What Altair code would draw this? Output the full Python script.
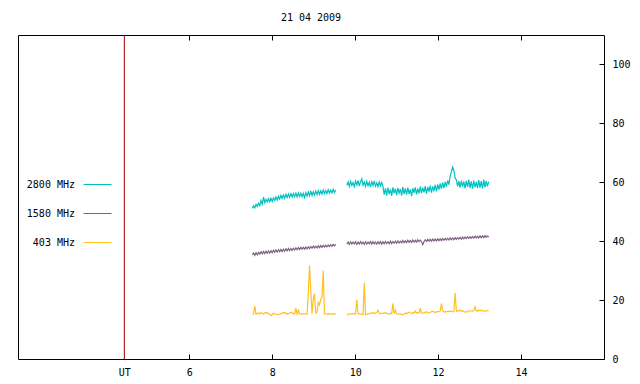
import altair as alt
import pandas as pd

title_text = "21 04 2009"
series_names = ["2800 MHz", "1580 MHz", "403 MHz"]
series_colors = ["#00c0c0", "#806080", "#ffc020"]
ut_color = "#a00000"
seg1_start = 7.52
seg2_start = 9.80
step = 0.03
ut_time = [4.434]
x_ticks = [6, 8, 10, 12, 14]
y_ticks = [0, 20, 40, 60, 80, 100]

f2800_a = [51.2, 52.0, 51.3, 52.5, 51.8, 52.9, 52.1, 53.8, 52.6, 55.0,
           53.1, 54.2, 53.3, 54.5, 53.4, 54.6, 53.5, 54.7, 53.8, 55.0,
           54.0, 55.3, 54.3, 55.6, 54.5, 55.7, 54.6, 55.9, 54.8, 56.0,
           54.9, 56.1, 55.0, 56.2, 55.1, 56.3, 55.0, 56.4, 55.2, 56.3,
           55.1, 56.2, 54.8, 56.5, 55.3, 56.7, 55.4, 57.1, 55.5, 56.8,
           55.7, 57.0, 55.8, 57.2, 55.9, 57.1, 56.0, 57.4, 56.1, 57.2,
           56.2, 57.5, 56.3, 57.3, 56.4, 57.6, 56.5, 57.4]
f2800_b = [59.0, 60.1, 58.6, 60.3, 58.9, 59.9, 58.5, 60.4, 59.1, 60.6,
           58.7, 60.2, 61.2, 59.0, 60.1, 58.6, 60.3, 58.8, 60.0, 58.4,
           60.2, 58.9, 60.5, 58.7, 59.8, 58.5, 60.1, 58.8, 59.9, 58.6,
           55.8, 57.9, 55.5, 58.2, 56.0, 57.6, 55.4, 58.3, 56.2, 57.8,
           55.6, 58.1, 56.3, 57.7, 55.5, 58.4, 56.0, 57.9, 55.8, 58.2,
           56.1, 57.6, 55.3, 58.0, 56.4, 58.3, 55.9, 57.8, 56.2, 58.5,
           56.3, 58.2, 56.6, 58.7, 56.1, 58.4, 56.8, 58.9, 56.5, 58.6,
           57.2, 59.1, 56.9, 59.3, 57.5, 59.6, 57.8, 59.9, 58.0, 60.1,
           58.5, 60.6, 59.2, 62.0, 63.6, 65.2, 64.0, 61.5, 60.8, 58.6,
           60.4, 58.2, 60.6, 58.5, 60.2, 57.9, 60.5, 58.4, 60.8, 58.1,
           60.3, 57.8, 60.6, 58.3, 60.1, 58.0, 60.7, 58.2, 60.4, 57.9,
           60.9, 58.3, 60.5, 58.6, 60.2]

f1580_a = [35.3, 36.0, 35.2, 36.1, 35.4, 36.2, 35.6, 36.4, 35.7, 36.5,
           35.8, 36.6, 35.9, 36.7, 36.0, 36.8, 36.1, 36.9, 36.2, 37.0,
           36.3, 37.1, 36.4, 37.2, 36.5, 37.3, 36.6, 37.4, 36.7, 37.5,
           36.8, 37.5, 36.9, 37.6, 37.0, 37.7, 37.1, 37.8, 37.2, 37.9,
           37.3, 37.9, 37.3, 38.0, 37.4, 38.1, 37.5, 38.2, 37.6, 38.3,
           37.7, 38.3, 37.7, 38.4, 37.8, 38.5, 37.9, 38.6, 38.0, 38.6,
           38.1, 38.7, 38.2, 38.8, 38.3, 38.9, 38.4, 39.0]
f1580_b = [39.0, 39.7, 38.9, 39.8, 39.0, 39.7, 39.1, 39.8, 38.9, 39.7,
           39.0, 39.8, 39.1, 39.7, 38.9, 39.8, 39.0, 39.7, 39.1, 39.9,
           39.0, 39.8, 39.1, 39.7, 39.0, 39.8, 39.1, 39.9, 39.0, 39.8,
           39.1, 39.9, 39.2, 39.8, 39.1, 40.0, 39.2, 39.9, 39.3, 40.0,
           39.3, 40.1, 39.4, 40.0, 39.4, 40.2, 39.5, 40.1, 39.5, 40.3,
           39.6, 40.2, 39.6, 40.4, 39.7, 40.3, 39.7, 40.5, 39.8, 40.4,
           39.8, 38.8, 39.9, 40.5, 39.9, 40.6, 40.0, 40.6, 40.0, 40.7,
           40.1, 40.7, 40.1, 40.8, 40.2, 40.8, 40.2, 40.9, 40.3, 40.9,
           40.4, 41.0, 40.4, 41.1, 40.5, 41.1, 40.5, 41.2, 40.6, 41.2,
           40.7, 41.3, 40.7, 41.4, 40.8, 41.4, 40.9, 41.5, 40.9, 41.5,
           41.0, 41.6, 41.0, 41.7, 41.1, 41.7, 41.1, 41.8, 41.2, 41.8,
           41.2, 41.9, 41.3, 41.8, 41.4]

f403_a = [15.2, 15.3, 18.0, 15.2, 15.4, 15.6, 15.3, 15.8, 15.5, 15.3,
          15.7, 15.6, 15.8, 15.4, 15.2, 14.7, 15.0, 15.6, 15.3, 15.2,
          15.1, 15.2, 15.2, 15.4, 15.6, 15.8, 15.5, 15.7, 15.2, 15.4,
          15.6, 15.9, 15.7, 15.4, 15.3, 17.3, 15.3, 16.6, 15.3, 15.3,
          15.3, 15.3, 15.4, 15.2, 15.3, 22.4, 31.7, 23.4, 15.4, 20.3,
          22.2, 15.6, 15.8, 19.2, 18.4, 20.3, 21.1, 30.0, 15.4, 15.3,
          15.2, 15.4, 15.3, 15.2, 15.3, 15.4, 15.2, 15.3]
f403_b = [14.9, 15.3, 15.2, 15.3, 15.3, 15.4, 15.3, 15.3, 20.1, 15.4,
          15.3, 15.2, 15.3, 15.1, 25.9, 15.0, 15.2, 15.3, 15.4, 15.6,
          15.5, 15.7, 15.6, 15.5, 15.8, 16.6, 15.5, 15.4, 15.6, 15.5,
          15.6, 15.7, 15.5, 15.4, 15.3, 15.5, 15.4, 18.8, 15.3, 16.6,
          15.4, 15.3, 15.2, 15.4, 15.1, 14.9, 15.4, 15.6, 15.3, 15.8,
          15.9, 15.6, 15.5, 15.7, 15.6, 16.3, 15.6, 15.8, 15.6, 17.3,
          15.7, 15.6, 15.6, 15.9, 16.0, 15.7, 15.6, 15.8, 16.1, 16.2,
          16.0, 15.8, 16.1, 16.0, 16.2, 16.3, 18.8, 16.4, 16.0, 16.1,
          16.0, 16.2, 16.1, 16.3, 16.2, 16.0, 16.1, 22.5, 16.2, 16.4,
          16.3, 16.6, 16.2, 16.4, 16.1, 16.0, 15.9, 16.2, 16.4, 16.3,
          16.3, 16.2, 16.5, 17.7, 16.4, 16.2, 16.5, 16.6, 16.3, 16.5,
          16.4, 16.2, 16.3, 16.5, 16.4]

series_segments = {
    "2800 MHz": [f2800_a, f2800_b],
    "1580 MHz": [f1580_a, f1580_b],
    "403 MHz": [f403_a, f403_b],
}
seg_starts = [seg1_start, seg2_start]

rows = []
for name, segs in series_segments.items():
    for k, vals in enumerate(segs):
        for i, v in enumerate(vals):
            rows.append({"t": round(seg_starts[k] + i * step, 4), "v": v,
                         "series": name, "seg": f"{name}-{k}"})
df = pd.DataFrame(rows)
ut_df = pd.DataFrame({"t": ut_time})

FONT = "DejaVu Sans Mono"
W, H = 586, 324
xs = alt.Scale(domain=[1.87, 16], nice=False, zero=False)
ys = alt.Scale(domain=[0, 110], nice=False, zero=False)

lines = alt.Chart(df).mark_line(strokeWidth=1.2).encode(
    x=alt.X("t:Q", scale=xs, axis=alt.Axis(
        orient="bottom", values=ut_time + x_ticks,
        labelExpr="datum.value < 5 ? 'UT' : datum.label",
        ticks=False, domain=False, grid=False, title=None,
        labelPadding=8, labelFlush=False, labelOverlap=False)),
    y=alt.Y("v:Q", scale=ys, axis=alt.Axis(
        orient="right", values=y_ticks, ticks=False, domain=False,
        grid=False, title=None, labelPadding=8, labelOverlap=False)),
    color=alt.Color("series:N",
                    scale=alt.Scale(domain=series_names, range=series_colors),
                    legend=alt.Legend(
                        orient="none", legendX=65, legendY=135, title=None,
                        symbolType="stroke", symbolSize=784,
                        symbolStrokeWidth=1, labelAlign="right",
                        labelOffset={"expr": "-37"}, rowPadding=9, padding=0,
                        labelFont=FONT, labelFontSize=10,
                        labelColor="black")),
    detail="seg:N",
)

ticks_in = alt.Chart(df).mark_line(opacity=0).encode(
    x=alt.X("t:Q", scale=xs, axis=alt.Axis(
        orient="top", offset=-H, values=x_ticks, labels=False,
        tickSize=5, domain=False, grid=False, title=None)),
    y=alt.Y("v:Q", scale=ys, axis=alt.Axis(
        orient="left", offset=-W, values=y_ticks, labels=False,
        tickSize=5, domain=False, grid=False, title=None)),
    detail="seg:N",
)

ticks_top = alt.Chart(df).mark_line(opacity=0).encode(
    x=alt.X("t:Q", scale=xs, axis=alt.Axis(
        orient="bottom", offset=-H, values=x_ticks, labels=False,
        tickSize=5, domain=False, grid=False, title=None)),
    y=alt.Y("v:Q", scale=ys, axis=None),
    detail="seg:N",
)

ut_rule = alt.Chart(ut_df).mark_rule(color=ut_color, strokeWidth=1).encode(
    x=alt.X("t:Q", scale=xs, axis=None),
)

chart = alt.layer(lines, ticks_in, ticks_top, ut_rule).resolve_axis(
    x="independent", y="independent"
).properties(
    width=W, height=H,
    title=title_text,
    autosize=alt.AutoSizeParams(type="none"),
    padding={"left": 10, "top": 27, "right": 28, "bottom": 17},
    background="white",
).configure_view(
    stroke="black", strokeWidth=1
).configure_axis(
    labelFont=FONT, labelFontSize=10, labelColor="black",
    tickColor="black", tickWidth=1
).configure_title(
    font=FONT, fontSize=10, fontWeight="normal", color="black",
    anchor="middle", offset=12
)

chart.save("out.html", embed_options={"renderer": "svg", "actions": False})
